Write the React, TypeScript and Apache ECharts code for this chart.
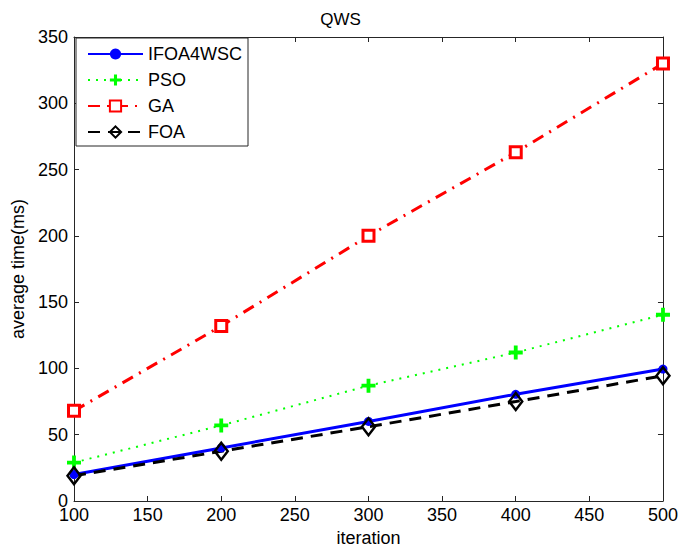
import React, { useEffect, useRef } from "react";
import * as echarts from "echarts";

const iterations = [100, 200, 300, 400, 500];
const ifoa4wsc = [20, 40, 60, 80.5, 99.5];
const pso = [29, 57, 87, 112, 140.5];
const ga = [68, 132, 200, 263, 330];
const foa = [19, 37.5, 56, 75, 94.5];

const FONT = "'Liberation Sans', Arial, sans-serif";

const pairs = (ys: number[]) => iterations.map((x, i) => [x, ys[i]]);

export default function App() {
  const ref = useRef<HTMLDivElement>(null);
  useEffect(() => {
    if (!ref.current) return;
    const chart = echarts.init(ref.current, undefined, { renderer: "svg" });
    const axisColor = "#262626";
    const baseAxis = {
      axisLine: { show: true, onZero: false, lineStyle: { color: axisColor, width: 1 } },
      axisTick: { show: true, inside: true, length: 5, lineStyle: { color: axisColor } },
      splitLine: { show: false },
    };
    chart.setOption({
      animation: false,
      backgroundColor: "#fff",
      title: {
        text: "QWS",
        left: "center",
        top: 6,
        textStyle: { fontFamily: FONT, fontSize: 17, fontWeight: "normal", color: "#000" },
      },
      grid: { left: 74, right: 17, top: 37, bottom: 51 },
      legend: {
        orient: "vertical",
        left: 76,
        top: 38,
        padding: [7, 6, 5, 11],
        itemWidth: 55,
        itemHeight: 14,
        itemGap: 8,
        backgroundColor: "#fff",
        borderColor: axisColor,
        borderWidth: 1,
        borderRadius: 0,
        textStyle: { fontFamily: FONT, fontSize: 18, color: "#000" },
        data: ["IFOA4WSC", "PSO", "GA", "FOA"],
      },
      xAxis: [
        {
          ...baseAxis,
          type: "value",
          min: 100,
          max: 500,
          interval: 50,
          name: "iteration",
          nameLocation: "middle",
          nameGap: 22,
          nameTextStyle: { fontFamily: FONT, fontSize: 18, color: "#000" },
          axisLabel: { fontFamily: FONT, fontSize: 18, color: "#000", margin: 5 },
        },
        {
          ...baseAxis,
          type: "value",
          position: "top",
          min: 100,
          max: 500,
          interval: 50,
          axisLabel: { show: false },
        },
      ],
      yAxis: [
        {
          ...baseAxis,
          type: "value",
          min: 0,
          max: 350,
          interval: 50,
          name: "average time(ms)",
          nameLocation: "middle",
          nameGap: 44,
          nameTextStyle: { fontFamily: FONT, fontSize: 18, color: "#000" },
          axisLabel: { fontFamily: FONT, fontSize: 18, color: "#000", margin: 6 },
        },
        {
          ...baseAxis,
          type: "value",
          position: "right",
          min: 0,
          max: 350,
          interval: 50,
          axisLabel: { show: false },
        },
      ],
      series: [
        {
          name: "IFOA4WSC",
          type: "line",
          data: pairs(ifoa4wsc),
          symbol: "circle",
          symbolSize: 9,
          lineStyle: { color: "#0000ff", width: 3, type: "solid" },
          itemStyle: { color: "#0000ff" },
        },
        {
          name: "PSO",
          type: "line",
          data: pairs(pso),
          symbol: "path://M4,0h3v4h4v3h-4v4h-3v-4h-4v-3h4z",
          symbolSize: 14,
          lineStyle: { color: "#00ff00", width: 2, type: [2, 6] },
          itemStyle: { color: "#00ff00" },
        },
        {
          name: "GA",
          type: "line",
          data: pairs(ga),
          symbol: "rect",
          symbolSize: 11,
          lineStyle: { color: "#ff0000", width: 3, type: [12, 7, 2, 7] },
          itemStyle: { color: "#fff", borderColor: "#ff0000", borderWidth: 3 },
        },
        {
          name: "FOA",
          type: "line",
          data: pairs(foa),
          symbol: "diamond",
          symbolSize: [13, 17],
          lineStyle: { color: "#000", width: 3, type: [12, 8] },
          itemStyle: { color: "rgba(255,255,255,0)", borderColor: "#000", borderWidth: 2.5 },
        },
      ],
    });
    return () => chart.dispose();
  }, []);
  return (
    <div
      ref={ref}
      style={{ position: "fixed", left: 0, top: 0, width: 681, height: 552, background: "#fff" }}
    />
  );
}
